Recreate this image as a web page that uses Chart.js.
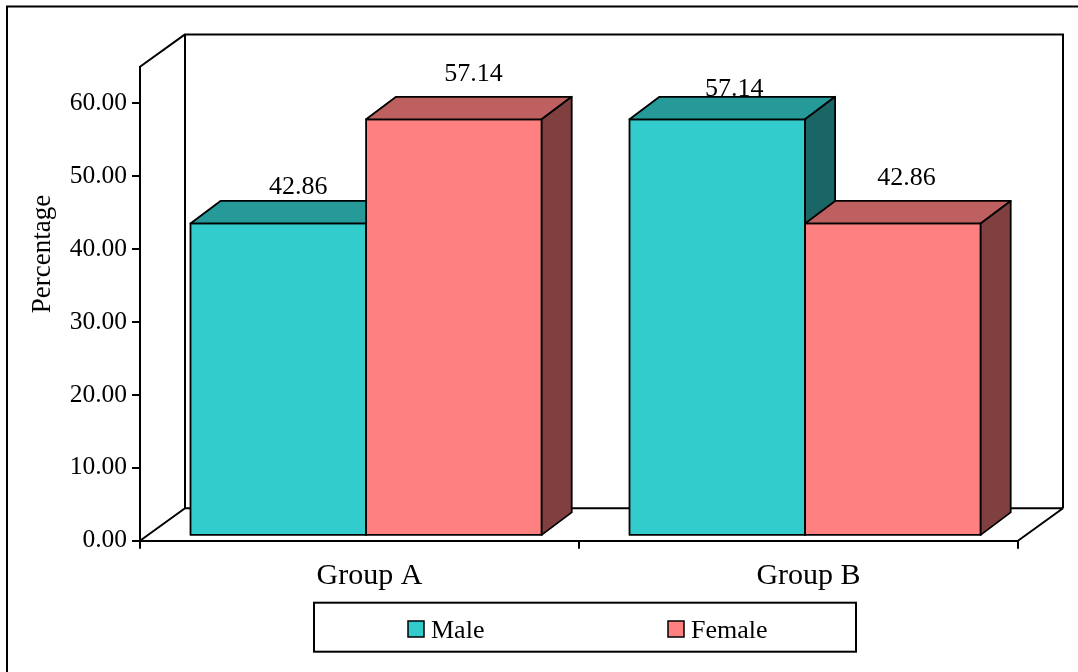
<!DOCTYPE html>
<html>
<head>
<meta charset="utf-8">
<script src="https://cdn.jsdelivr.net/npm/chart.js@4.4.1/dist/chart.umd.min.js"></script>
<style>
  html, body { margin: 0; padding: 0; background: #fff; }
  #wrap { width: 1078px; height: 672px; position: relative; }
</style>
</head>
<body>
<div id="wrap"><canvas id="c" width="1078" height="672"></canvas></div>
<script>
// Gender split per group (percent)
const groups = ['Group A', 'Group B'];
const maleValues = [42.86, 57.14];
const femaleValues = [57.14, 42.86];
const yTickValues = [0, 10, 20, 30, 40, 50, 60];
const seriesNames = ['Male', 'Female'];
const seriesColors = ['rgb(51,204,204)', 'rgb(255,128,128)'];

const SERIF = "'Liberation Serif', 'Times New Roman', serif";

function shade(rgb, f) {
  const m = rgb.match(/\d+/g).map(Number);
  return `rgb(${Math.round(m[0] * f)},${Math.round(m[1] * f)},${Math.round(m[2] * f)})`;
}

// Pseudo-3D box: back walls + floor, extruded bars, value labels, framed legend
const box3d = {
  id: 'box3d',
  beforeDatasetsDraw(chart, args, o) {
    const { ctx, chartArea: a } = chart;
    const dx = o.wallDepth[0], dy = o.wallDepth[1];
    ctx.save();
    ctx.strokeStyle = '#000';
    ctx.lineWidth = 2;
    ctx.lineJoin = 'miter';
    ctx.beginPath();
    // side wall top edge
    ctx.moveTo(a.left, a.top);
    ctx.lineTo(a.left + dx, a.top + dy);
    // back wall outline
    ctx.moveTo(a.left + dx, a.bottom + dy);
    ctx.lineTo(a.left + dx, a.top + dy);
    ctx.lineTo(a.right + dx, a.top + dy);
    ctx.lineTo(a.right + dx, a.bottom + dy);
    // floor
    ctx.moveTo(a.left + dx, a.bottom + dy);
    ctx.lineTo(a.right + dx, a.bottom + dy);
    ctx.moveTo(a.left, a.bottom);
    ctx.lineTo(a.left + dx, a.bottom + dy);
    ctx.moveTo(a.right, a.bottom);
    ctx.lineTo(a.right + dx, a.bottom + dy);
    ctx.stroke();
    ctx.restore();
  },
  beforeDatasetDraw() {
    // bars are drawn as boxes after all datasets
    return false;
  },
  afterDatasetsDraw(chart, args, o) {
    const { ctx } = chart;
    const [sx, sy] = o.barShift;
    const [bx, by] = o.barDepth;
    const n = chart.data.labels.length;
    ctx.save();
    ctx.strokeStyle = '#000';
    ctx.lineWidth = 1.8;
    ctx.lineJoin = 'round';
    const boxes = [];
    for (let i = 0; i < n; i++) {
      chart.data.datasets.forEach((ds, d) => {
        const el = chart.getDatasetMeta(d).data[i];
        const { x, y, base, width } = el.getProps(['x', 'y', 'base', 'width'], true);
        const L = x - width / 2 + sx, R = x + width / 2 + sx;
        const T = y + sy, B = base + sy;
        const c = ds.backgroundColor;
        // front face
        ctx.fillStyle = c;
        ctx.beginPath();
        ctx.rect(L, T, R - L, B - T);
        ctx.fill(); ctx.stroke();
        // top face
        ctx.fillStyle = shade(c, 0.75);
        ctx.beginPath();
        ctx.moveTo(L, T); ctx.lineTo(L + bx, T + by); ctx.lineTo(R + bx, T + by); ctx.lineTo(R, T);
        ctx.closePath(); ctx.fill(); ctx.stroke();
        // side face
        ctx.fillStyle = shade(c, 0.5);
        ctx.beginPath();
        ctx.moveTo(R, T); ctx.lineTo(R + bx, T + by); ctx.lineTo(R + bx, B + by); ctx.lineTo(R, B);
        ctx.closePath(); ctx.fill(); ctx.stroke();
        boxes.push({ d, i, cx: (L + R) / 2, backTop: T + by, v: ds.data[i] });
      });
    }
    // value labels
    ctx.fillStyle = '#000';
    ctx.font = `26px ${SERIF}`;
    ctx.textAlign = 'center';
    ctx.textBaseline = 'alphabetic';
    boxes.forEach(b => {
      const nud = o.labelNudge[b.d][b.i];
      ctx.fillText(b.v.toFixed(2), b.cx + nud[0], b.backTop + nud[1]);
    });
    ctx.restore();
  },
  afterDraw(chart, args, o) {
    const { ctx } = chart;
    ctx.save();
    // outer frame
    ctx.strokeStyle = '#000';
    ctx.lineWidth = 2;
    ctx.beginPath();
    ctx.moveTo(7, 672); ctx.lineTo(7, 6.5); ctx.lineTo(1078, 6.5);
    ctx.stroke();

    // axis title
    ctx.fillStyle = '#000';
    ctx.font = `27px ${SERIF}`;
    ctx.textAlign = 'center';
    ctx.textBaseline = 'middle';
    ctx.translate(o.title.x, o.title.y);
    ctx.rotate(-Math.PI / 2);
    ctx.fillText(o.title.text, 0, 0);
    ctx.setTransform(1, 0, 0, 1, 0, 0);

    // legend
    const lg = o.legend;
    ctx.lineWidth = 2;
    ctx.strokeRect(lg.x, lg.y, lg.w, lg.h);
    ctx.font = `26px ${SERIF}`;
    ctx.textAlign = 'left';
    ctx.textBaseline = 'alphabetic';
    chart.data.datasets.forEach((ds, d) => {
      const sxw = lg.items[d];
      ctx.fillStyle = ds.backgroundColor;
      ctx.fillRect(sxw, lg.swatchY, 16, 16);
      ctx.lineWidth = 1.5;
      ctx.strokeRect(sxw, lg.swatchY, 16, 16);
      ctx.fillStyle = '#000';
      ctx.fillText(ds.label, sxw + 23, lg.textY);
    });
    ctx.restore();
  }
};

const chart = new Chart(document.getElementById('c'), {
  type: 'bar',
  data: {
    labels: groups,
    datasets: [
      { label: seriesNames[0], data: maleValues, backgroundColor: seriesColors[0] },
      { label: seriesNames[1], data: femaleValues, backgroundColor: seriesColors[1] }
    ]
  },
  plugins: [box3d],
  options: {
    responsive: false,
    animation: false,
    devicePixelRatio: 1,
    events: [],
    layout: { padding: { left: 24, right: 60, top: 66.8, bottom: 81.3 } },
    datasets: { bar: { categoryPercentage: 0.8, barPercentage: 1.0 } },
    scales: {
      x: {
        type: 'category',
        offset: true,
        grid: { offset: true, drawOnChartArea: false, drawTicks: true, tickLength: 8, color: '#000', lineWidth: 2 },
        border: { color: '#000', width: 2 },
        ticks: { color: '#000', font: { family: SERIF, size: 30 }, padding: 9, labelOffset: 10, maxRotation: 0 },
        afterFit(s) { s.height = 50; }
      },
      y: {
        min: 0,
        max: 65,
        grid: { drawOnChartArea: false, drawTicks: true, tickLength: 8, color: '#000', lineWidth: 2 },
        border: { color: '#000', width: 2 },
        ticks: {
          color: '#000',
          font: { family: SERIF, size: 25.5 },
          padding: 5,
          callback: v => Number(v).toFixed(2)
        },
        afterBuildTicks(s) { s.ticks = yTickValues.map(v => ({ value: v })); },
        afterFit(s) { s.width = 116; }
      }
    },
    plugins: {
      legend: { display: false },
      tooltip: { enabled: false },
      box3d: {
        wallDepth: [45, -32.4],
        barShift: [6.6, -4.8],
        barDepth: [30, -22.5],
        labelNudge: [[[20, -7], [17, -1]], [[19.5, -16], [13.5, -16]]],
        title: { text: 'Percentage', x: 43, y: 254 },
        legend: { x: 314, y: 602.7, w: 542, h: 49, items: [408, 668], swatchY: 621, textY: 638 }
      }
    }
  }
});
</script>
</body>
</html>
